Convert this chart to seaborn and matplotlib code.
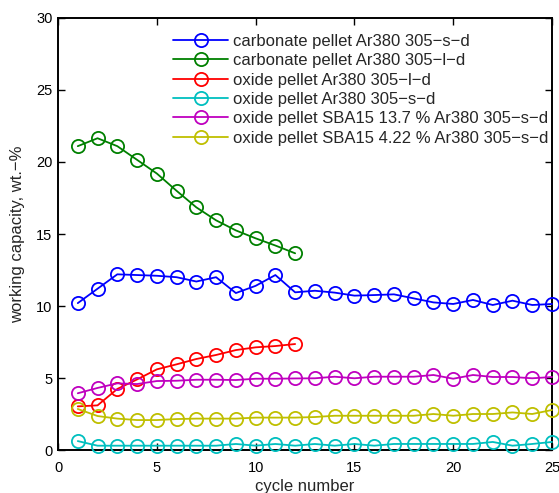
import numpy as np
import pandas as pd
import matplotlib
matplotlib.use("Agg")
import matplotlib.pyplot as plt
import seaborn as sns

# Working capacity per cycle for each sorbent sample (wt.-%)
carb_s = [10.2, 11.2, 12.2, 12.15, 12.1, 12.0, 11.7, 12.0, 10.9, 11.4, 12.15, 10.95,
          11.06, 10.93, 10.72, 10.76, 10.81, 10.53, 10.25, 10.14, 10.42, 10.07, 10.37, 10.07, 10.14]
carb_l = [21.1, 21.65, 21.1, 20.15, 19.2, 18.0, 16.85, 15.95, 15.25, 14.7, 14.2, 13.66]
ox_l = [3.03, 3.1, 4.24, 4.9, 5.6, 5.95, 6.32, 6.6, 6.94, 7.13, 7.22, 7.36]
ox_s = [0.62, 0.3, 0.3, 0.3, 0.3, 0.3, 0.3, 0.3, 0.42, 0.3, 0.42, 0.3,
        0.42, 0.3, 0.42, 0.3, 0.42, 0.42, 0.42, 0.42, 0.42, 0.56, 0.3, 0.42, 0.56]
sba_137 = [3.94, 4.31, 4.63, 4.58, 4.79, 4.81, 4.88, 4.88, 4.86, 4.95, 4.95, 4.97,
           4.98, 5.09, 4.98, 5.09, 5.09, 5.09, 5.21, 4.95, 5.21, 5.07, 5.07, 4.98, 5.07]
sba_422 = [2.85, 2.36, 2.18, 2.08, 2.08, 2.15, 2.18, 2.18, 2.18, 2.25, 2.25, 2.25,
           2.29, 2.38, 2.38, 2.38, 2.38, 2.38, 2.5, 2.38, 2.5, 2.5, 2.61, 2.5, 2.78]

labels = [
    "carbonate pellet Ar380 305\u2212s\u2212d",
    "carbonate pellet Ar380 305\u2212l\u2212d",
    "oxide pellet Ar380 305\u2212l\u2212d",
    "oxide pellet Ar380 305\u2212s\u2212d",
    "oxide pellet SBA15 13.7 % Ar380 305\u2212s\u2212d",
    "oxide pellet SBA15 4.22 % Ar380 305\u2212s\u2212d",
]
series = [carb_s, carb_l, ox_l, ox_s, sba_137, sba_422]
colors = ["#0000ff", "#008000", "#ff0000", "#00bfbf", "#bf00bf", "#bfbf00"]

x_ticks = [0, 5, 10, 15, 20, 25]
y_ticks = [0, 5, 10, 15, 20, 25, 30]

frames = []
for lab, vals in zip(labels, series):
    frames.append(pd.DataFrame({"cycle": np.arange(1, len(vals) + 1),
                                "capacity": vals, "sample": lab}))
df = pd.concat(frames, ignore_index=True)

sns.set_style("ticks")
plt.rcParams["font.family"] = ["Liberation Sans", "DejaVu Sans"]
plt.rcParams["axes.unicode_minus"] = True

fig = plt.figure(figsize=(5.59, 4.93), dpi=100)
ax = fig.add_axes([0.1038, 0.0872, 0.8837, 0.8763])

sns.lineplot(data=df, x="cycle", y="capacity", hue="sample", hue_order=labels,
             palette=dict(zip(labels, colors)), marker="o", markersize=9.5,
             markerfacecolor="none", markeredgewidth=1.3, linewidth=1.3,
             ax=ax, legend=False, clip_on=False, zorder=3)
for line, c in zip(ax.lines, colors):
    line.set_markeredgecolor(c)

ax.set_xlim(0, 25)
ax.set_ylim(0, 30)
ax.set_xticks(x_ticks)
ax.set_yticks(y_ticks)
ax.tick_params(direction="in", top=True, right=True, length=5, width=1.0,
               labelsize=10.5, colors="black")
ax.tick_params(axis="x", pad=8)
ax.tick_params(axis="y", pad=4)
for sp in ax.spines.values():
    sp.set_visible(True)
    sp.set_linewidth(1.4)
    sp.set_color("black")
ax.set_xlabel("cycle number", fontsize=12, labelpad=3)
ax.set_ylabel("working capacity, wt.\u2212%", fontsize=12, labelpad=8)

handles = [plt.Line2D([], [], color=c, marker="o", markersize=9.5, markerfacecolor="none",
                      markeredgewidth=1.3, linewidth=1.3) for c in colors]
ax.legend(handles, labels, loc="upper left", bbox_to_anchor=(0.233, 0.963),
          frameon=False, fontsize=12, handlelength=3.3, handletextpad=0.3,
          labelspacing=0.26, borderpad=0, borderaxespad=0)

fig.savefig("out.png", dpi=100)
